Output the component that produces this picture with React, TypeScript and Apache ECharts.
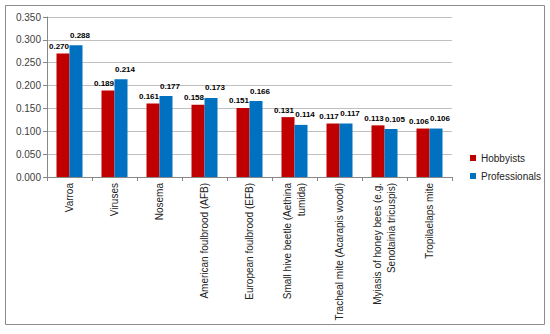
import React, { useEffect, useRef } from "react";
import * as echarts from "echarts";

const categories = [
  "Varroa",
  "Viruses",
  "Nosema",
  "American foulbrood (AFB)",
  "European foulbrood (EFB)",
  "Small hive beetle (Aethina\ntumida)",
  "Tracheal mite (Acarapis woodi)",
  "Myiasis of honey bees (e.g.\nSenotainia tricuspis)",
  "Tropilaelaps mite",
];
const hobbyists = [0.27, 0.189, 0.161, 0.158, 0.151, 0.131, 0.117, 0.113, 0.106];
const professionals = [0.288, 0.214, 0.177, 0.173, 0.166, 0.114, 0.117, 0.105, 0.106];

const FONT = "Liberation Sans";

export default function App() {
  const ref = useRef<HTMLDivElement>(null);
  useEffect(() => {
    const chart = echarts.init(ref.current!, null, { renderer: "svg" });
    const mkLabel = (offset: number[]) => ({
      show: true,
      position: "top" as const,
      distance: 3,
      offset,
      fontSize: 8,
      fontWeight: "bold" as const,
      color: "#000",
      fontFamily: FONT,
      formatter: (p: any) => p.value.toFixed(3),
    });
    chart.setOption({
      animation: false,
      textStyle: { fontFamily: FONT },
      graphic: [
        {
          type: "rect",
          shape: { x: 5.5, y: 5.5, width: 539, height: 319 },
          style: { fill: "none", stroke: "#8c8c8c", lineWidth: 1 },
          silent: true,
        },
      ],
      grid: { left: 47, top: 17, right: 98, bottom: 157, containLabel: false },
      legend: {
        orient: "vertical",
        left: 465,
        top: 148,
        itemWidth: 6,
        itemHeight: 6,
        itemGap: 8,
        icon: "rect",
        textStyle: { fontSize: 10, color: "#222", fontFamily: FONT },
        data: ["Hobbyists", "Professionals"],
      },
      xAxis: {
        type: "category",
        data: categories,
        axisLine: { lineStyle: { color: "#888" } },
        axisTick: { show: true, length: 4, lineStyle: { color: "#888" } },
        axisLabel: {
          rotate: 90,
          interval: 0,
          fontSize: 10,
          color: "#222",
          fontFamily: FONT,
          lineHeight: 14,
          margin: 6,
          align: "right",
          verticalAlign: "middle",
        },
      },
      yAxis: {
        type: "value",
        min: 0,
        max: 0.35,
        interval: 0.05,
        axisLine: { show: true, lineStyle: { color: "#888" } },
        axisTick: { show: true, length: 4, lineStyle: { color: "#888" } },
        splitLine: { lineStyle: { color: "#c0c0c0" } },
        axisLabel: {
          fontSize: 10,
          color: "#404040",
          fontFamily: FONT,
          margin: 6,
          formatter: (v: number) => v.toFixed(3),
        },
      },
      series: [
        {
          name: "Hobbyists",
          type: "bar",
          data: hobbyists,
          itemStyle: { color: "#C00000" },
          barWidth: 13,
          barGap: "0%",
          label: mkLabel([-4, 0]),
        },
        {
          name: "Professionals",
          type: "bar",
          data: professionals,
          itemStyle: { color: "#0070C0" },
          barWidth: 13,
          barGap: "0%",
          label: mkLabel([4, -3]),
        },
      ],
    });
    return () => chart.dispose();
  }, []);
  return (
    <div
      ref={ref}
      style={{ position: "fixed", left: 0, top: 0, width: 550, height: 334, background: "#fff" }}
    />
  );
}
